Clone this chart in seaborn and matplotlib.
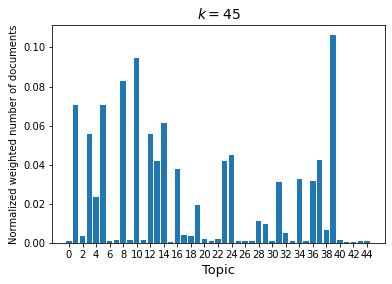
import matplotlib
matplotlib.use("Agg")
import matplotlib.pyplot as plt
import seaborn as sns
import pandas as pd

topics = list(range(45))
values = [0.0012, 0.0704, 0.0037, 0.0560, 0.0237, 0.0704, 0.0012, 0.0015, 0.0827, 0.0015,
          0.0945, 0.0015, 0.0555, 0.0417, 0.0612, 0.0007, 0.0381, 0.0041, 0.0037, 0.0196,
          0.0020, 0.0012, 0.0020, 0.0417, 0.0448, 0.0012, 0.0012, 0.0012, 0.0114, 0.0099,
          0.0012, 0.0314, 0.0053, 0.0012, 0.0325, 0.0012, 0.0319, 0.0427, 0.0068, 0.1063,
          0.0015, 0.0007, 0.0007, 0.0012, 0.0012]
xticks = list(range(0, 45, 2))

df = pd.DataFrame({"topic": topics, "value": values})

fig = plt.figure(figsize=(392/72, 284/72), dpi=72)
ax = fig.add_axes([52/392, 41/284, 333/392, 218/284])
sns.barplot(data=df, x="topic", y="value", color="#1f77b4", saturation=1,
            width=0.8, native_scale=True, ax=ax)
ax.set_xticks(xticks)
ax.set_xticklabels([str(t) for t in xticks], fontsize=10)
ax.tick_params(axis="y", labelsize=10)
ax.set_xlim(-2.51, 46.66)
ax.set_ylim(0, 0.1115)
ax.set_yticks([0, 0.02, 0.04, 0.06, 0.08, 0.10])
ax.set_yticklabels(["0.00", "0.02", "0.04", "0.06", "0.08", "0.10"])
ax.set_xlabel("Topic", fontsize=13)
ax.set_ylabel("Normalized weighted number of documents", fontsize=10)
ax.set_title("$k = 45$", fontsize=14)
fig.savefig("out.png", dpi=72)
